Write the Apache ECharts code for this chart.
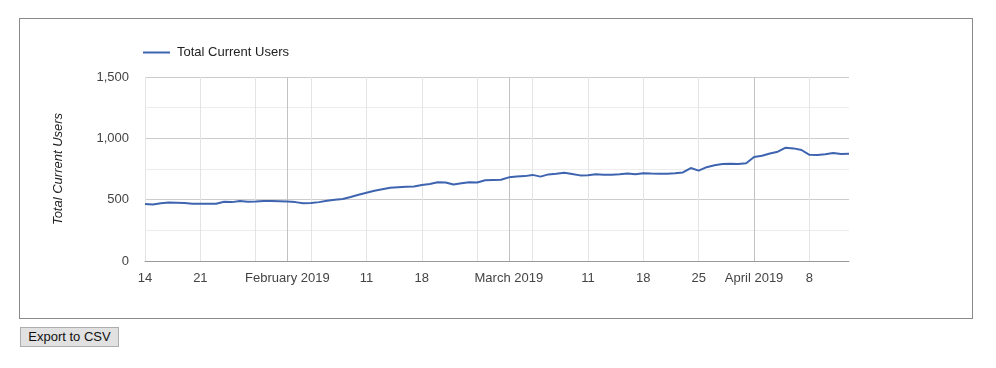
<!DOCTYPE html>
<html>
<head>
<meta charset="utf-8">
<script src="https://cdn.jsdelivr.net/npm/echarts@6/dist/echarts.min.js"></script>
<style>
  html, body { margin: 0; padding: 0; background: #fff; width: 996px; height: 368px; overflow: hidden; }
  #frame { position: absolute; left: 19px; top: 18px; width: 952px; height: 299px; border: 1px solid #8a8a8a; }
  #chart { position: absolute; left: 0; top: 0; width: 996px; height: 368px; }
  #btn { position: absolute; left: 20px; top: 327px; width: 99px; height: 20px; box-sizing: border-box;
         background: #e1e1e1; border: 1px solid #adadad; font: 13px Arial, "Liberation Sans", sans-serif;
         color: #111; text-align: center; line-height: 18px; padding: 0; }
</style>
</head>
<body>
<div id="frame"></div>
<div id="chart"></div>
<button id="btn">Export to CSV</button>
<script>
// ---- data ----
const startDate = '2019-01-14';
const seriesName = 'Total Current Users';
const totalCurrentUsers = [
  // Jan 14 - Jan 31
  465, 460, 470, 476, 474, 472, 466, 466, 467, 467, 483, 480, 490, 483, 485, 490, 489, 488,
  // Feb 1 - Feb 28
  485, 480, 470, 472, 480, 492, 500, 506, 522, 540, 556, 572, 585, 597, 602, 605, 607, 620,
  627, 642, 640, 623, 633, 642, 640, 658, 660, 662,
  // Mar 1 - Mar 31
  682, 688, 692, 702, 688, 706, 712, 720, 710, 698, 700, 707, 704, 704, 708, 714, 708, 715,
  713, 712, 712, 715, 722, 758, 737, 765, 780, 790, 793, 790, 797,
  // Apr 1 - Apr 13
  848, 858, 877, 891, 924, 918, 905, 866, 864, 870, 880, 872, 875
];
// x tick labels (date -> label)
const xTickDates  = ['2019-01-14','2019-01-21','2019-02-01','2019-02-11','2019-02-18','2019-03-01','2019-03-11','2019-03-18','2019-03-25','2019-04-01','2019-04-08'];
const xTickLabels = ['14','21','February 2019','11','18','March 2019','11','18','25','April 2019','8'];
// vertical gridlines: week starts and month starts
const weekLineDates  = ['2019-01-14','2019-01-21','2019-01-28','2019-02-04','2019-02-11','2019-02-18','2019-02-25','2019-03-04','2019-03-11','2019-03-18','2019-03-25','2019-04-08'];
const monthLineDates = ['2019-02-01','2019-03-01','2019-04-01'];
// y ticks
const yMin = 0, yMax = 1500, yStep = 250, yLabelStep = 500;

// ---- build categories ----
function fmt(d) {
  const m = String(d.getUTCMonth() + 1).padStart(2, '0');
  const day = String(d.getUTCDate()).padStart(2, '0');
  return d.getUTCFullYear() + '-' + m + '-' + day;
}
const categories = [];
{
  const d0 = new Date(startDate + 'T00:00:00Z');
  for (let i = 0; i < totalCurrentUsers.length; i++) {
    categories.push(fmt(new Date(d0.getTime() + i * 86400000)));
  }
}
const labelMap = {};
xTickDates.forEach((d, i) => labelMap[d] = xTickLabels[i]);
const lineSet = new Set(weekLineDates.concat(monthLineDates));
const monthSet = new Set(monthLineDates);
const lineColors = categories.filter(c => lineSet.has(c)).map(c => monthSet.has(c) ? '#c2c2c2' : '#e4e4e4');

const FONT = 'Arial, "Liberation Sans", sans-serif';
const chart = echarts.init(document.getElementById('chart'), null, { renderer: 'canvas' });
chart.setOption({
  animation: false,
  textStyle: { fontFamily: FONT },
  legend: {
    left: 138, top: 41,
    icon: 'rect',
    itemWidth: 27, itemHeight: 2, itemGap: 10,
    textStyle: { fontSize: 13, color: '#222', fontFamily: FONT, padding: [0, 0, 0, 2] },
    data: [seriesName]
  },
  grid: { left: 145, right: 147, top: 77, bottom: 107, containLabel: false },
  xAxis: {
    type: 'category',
    data: categories,
    boundaryGap: false,
    axisLine: { show: true, lineStyle: { color: '#9a9a9a', width: 1 } },
    axisTick: { show: false },
    axisLabel: {
      interval: (i, v) => labelMap[v] !== undefined,
      formatter: v => labelMap[v] || '',
      color: '#444', fontSize: 13, fontFamily: FONT, margin: 11
    },
    splitLine: {
      show: true,
      interval: (i, v) => lineSet.has(v),
      lineStyle: { color: lineColors, width: 1 }
    }
  },
  yAxis: {
    type: 'value',
    min: yMin, max: yMax, interval: yStep,
    name: seriesName,
    nameLocation: 'middle',
    nameRotate: 90,
    nameGap: 80,
    nameTextStyle: { fontStyle: 'italic', fontSize: 13, color: '#222', fontFamily: FONT },
    axisLine: { show: false },
    axisTick: { show: false },
    axisLabel: {
      formatter: v => (v % yLabelStep === 0 ? v.toLocaleString('en-US') : ''),
      color: '#444', fontSize: 13, fontFamily: FONT, margin: 16
    },
    splitLine: { show: true, lineStyle: { color: ['#cccccc', '#ececec'], width: 1 } }
  },
  series: [{
    name: seriesName,
    type: 'line',
    data: totalCurrentUsers,
    symbol: 'none',
    lineStyle: { color: '#3e64b0', width: 2 },
    itemStyle: { color: '#3e64b0' }
  }]
});
</script>
</body>
</html>
